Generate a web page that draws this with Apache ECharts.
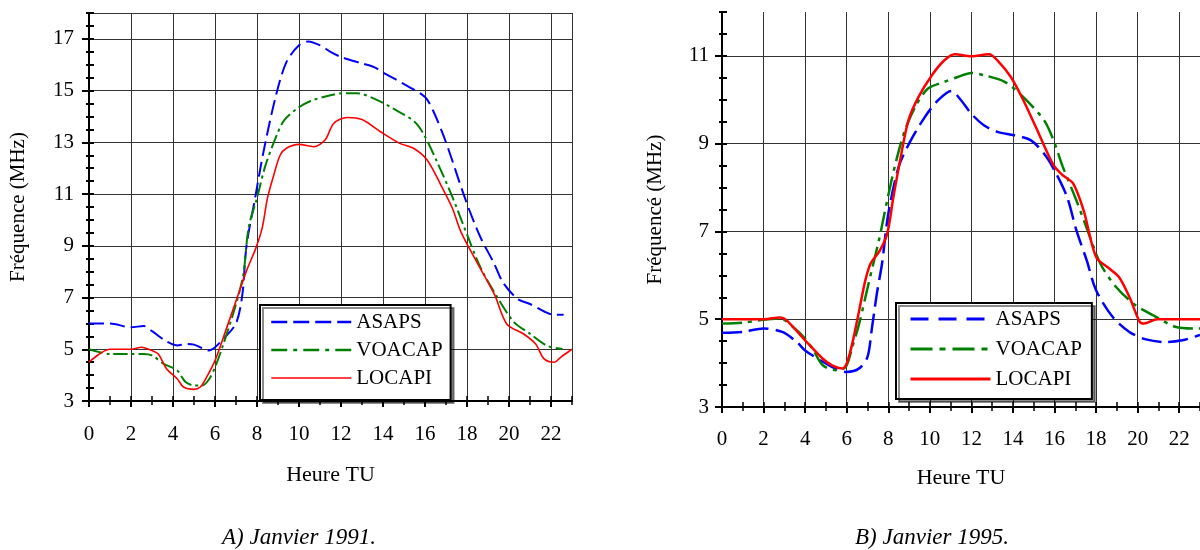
<!DOCTYPE html>
<html>
<head>
<meta charset="utf-8">
<script src="https://cdn.jsdelivr.net/npm/echarts@6.0.0/dist/echarts.min.js"></script>
<style>
  html, body { margin: 0; background: #fff; }
  #chart { width: 1200px; height: 550px; }
</style>
</head>
<body>
<div id="chart"></div>
<script>
// A) Janvier 1991 : [heure TU, fréquence MHz]
var asaps1991 = [[0,6.0],[1,6.0],[2,5.85],[2.6,5.9],[3,5.7],[3.7,5.3],[4.2,5.15],[4.6,5.2],[5,5.18],[5.7,4.95],[6,5.08],[6.4,5.4],[7,6.0],[7.3,7.1],[7.5,9.0],[7.9,10.8],[8.3,12.6],[8.9,14.8],[9.4,16.1],[10,16.75],[10.45,16.9],[11,16.75],[11.5,16.5],[12,16.3],[13,16.05],[13.6,15.9],[14,15.7],[15,15.25],[16,14.75],[16.4,14.2],[17,13.0],[17.9,10.85],[18.6,9.4],[19.3,8.3],[19.7,7.6],[20.4,6.95],[21,6.75],[21.7,6.45],[22.15,6.33],[22.6,6.33]];
var voacap1991 = [[0,5.0],[1,4.82],[2,4.82],[2.6,4.82],[3,4.76],[3.55,4.44],[4.2,4.18],[4.6,3.73],[5,3.6],[5.4,3.6],[5.7,3.82],[6,4.3],[6.4,5.2],[7,6.74],[7.35,7.9],[7.6,9.7],[8,10.85],[8.4,12.1],[8.95,13.3],[9.3,13.86],[9.9,14.3],[10.55,14.6],[11.5,14.82],[12.1,14.9],[12.75,14.9],[13.55,14.7],[14.5,14.3],[15.5,13.8],[15.95,13.3],[16.6,12.2],[17.3,10.9],[18,9.44],[18.65,8.15],[19.45,7.0],[20.25,6.04],[21,5.6],[21.8,5.14],[22.55,5.01]];
var locapi1991 = [[0,4.5],[1,5.0],[2,5.0],[2.5,5.08],[3,4.95],[3.3,4.82],[3.7,4.24],[4.2,3.86],[4.5,3.54],[5,3.45],[5.3,3.54],[5.6,3.92],[6,4.56],[6.4,5.46],[7,6.87],[7.5,8.03],[7.95,8.92],[8.25,9.7],[8.5,10.85],[8.8,11.74],[9.1,12.5],[9.4,12.77],[10,12.92],[10.7,12.83],[11.25,13.1],[11.65,13.73],[12.3,13.96],[13,13.88],[13.9,13.4],[14.8,12.96],[15.45,12.77],[16.1,12.32],[16.75,11.36],[17.3,10.46],[17.7,9.56],[18.35,8.54],[19.3,7.13],[19.9,5.97],[20.7,5.59],[21.27,5.2],[21.67,4.63],[22.15,4.5],[22.46,4.69],[23,5.0]];

// B) Janvier 1995
var asaps1995 = [[0,4.69],[1,4.71],[2,4.79],[2.9,4.71],[3.6,4.48],[4,4.29],[4.85,4.03],[5.6,3.84],[6,3.8],[6.6,3.88],[7,4.14],[7.2,4.75],[7.45,5.58],[7.7,6.27],[8,7.4],[8.5,8.47],[9,9.0],[9.75,9.6],[10.4,9.99],[11.03,10.2],[11.5,9.99],[12,9.68],[12.6,9.42],[13.25,9.27],[14.05,9.19],[14.85,9.08],[15.5,8.77],[16,8.39],[16.6,7.79],[17.05,7.03],[17.55,6.34],[18,5.66],[18.8,5.05],[19.6,4.71],[20.4,4.54],[21.35,4.48],[22.15,4.52],[22.8,4.61],[23,4.64]];
var voacap1995 = [[0,4.9],[1,4.92],[2,4.99],[2.8,5.02],[3.4,4.83],[4,4.56],[4.4,4.29],[4.85,3.95],[5.5,3.84],[5.95,3.91],[6.27,4.37],[6.6,4.9],[7.05,5.81],[7.55,6.8],[7.95,7.71],[8.35,8.55],[8.8,9.3],[9.3,9.84],[9.9,10.25],[10.7,10.41],[11.35,10.52],[12,10.61],[12.6,10.56],[13.6,10.41],[14.5,10.06],[15.5,9.53],[15.95,9.08],[16.4,8.47],[17.05,7.71],[17.7,6.88],[18.2,6.27],[18.95,5.74],[19.9,5.32],[20.9,5.05],[21.8,4.83],[22.8,4.79],[23,4.79]];
var locapi1995 = [[0,5.0],[2,5.0],[2.8,5.04],[3.1,4.98],[4,4.52],[4.85,4.1],[5.3,3.95],[5.8,3.88],[6,3.99],[6.27,4.45],[6.6,5.2],[6.9,5.89],[7.15,6.27],[7.6,6.57],[7.95,6.95],[8.25,7.79],[8.57,8.62],[8.97,9.53],[9.45,10.06],[10.1,10.56],[10.7,10.9],[11.2,11.04],[12,10.99],[12.85,11.04],[13.25,10.9],[13.9,10.52],[14.5,9.99],[15.1,9.38],[15.95,8.51],[16.4,8.28],[16.9,8.09],[17.4,7.48],[18,6.42],[18.65,6.15],[19.1,5.96],[19.6,5.51],[20.1,4.94],[20.3,4.9],[20.95,5.0],[23,5.0]];

var yLabels1991 = [3, 5, 7, 9, 11, 13, 15, 17];
var yLabels1995 = [3, 5, 7, 9, 11];
var seriesNames = ['ASAPS', 'VOACAP', 'LOCAPI'];

var FONT = 'Liberation Serif';
var BLUE = '#0000ff', GREEN = '#008000', RED = '#ff0000';

// axes x : principal (labels + grille) et deux axes pour les petites graduations
function xAxes(grid, withTop, labelMargin, nameGap) {
    var list = [
        {
            gridIndex: grid, type: 'value', position: 'bottom', min: 0, max: 23, interval: 2,
            axisLine: { onZero: false, lineStyle: { color: '#000', width: 2 } },
            axisTick: { inside: false, length: 6, lineStyle: { color: '#000', width: 2 } },
            axisLabel: { margin: labelMargin, showMaxLabel: false, color: '#000', fontFamily: FONT, fontSize: 21 },
            splitLine: { show: true, lineStyle: { color: '#333', width: 1 } },
            name: 'Heure TU', nameLocation: 'middle', nameGap: nameGap,
            nameTextStyle: { color: '#000', fontFamily: FONT, fontSize: 22 }
        },
        {
            gridIndex: grid, type: 'value', position: 'bottom', min: 0, max: 23, interval: 1,
            axisLine: { show: false, onZero: false },
            axisTick: { inside: true, length: 5, lineStyle: { color: '#000', width: 1.5 } },
            axisLabel: { show: false }, splitLine: { show: false }
        },
        {
            gridIndex: grid, type: 'value', position: 'bottom', min: 0, max: 23, interval: 1,
            axisLine: { show: false, onZero: false },
            axisTick: { inside: false, length: 4, lineStyle: { color: '#000', width: 1.5 } },
            axisLabel: { show: false }, splitLine: { show: false }
        }
    ];
    if (withTop) {
        list.push({
            gridIndex: grid, type: 'value', position: 'top', min: 0, max: 23,
            axisLine: { onZero: false, lineStyle: { color: '#333', width: 1 } },
            axisTick: { show: false }, axisLabel: { show: false }, splitLine: { show: false }
        });
    }
    return list;
}

function yAxes(grid, max, labels, name, labelMargin, gap) {
    return [
        {
            gridIndex: grid, type: 'value', position: 'left', min: 3, max: max,
            axisLine: { onZero: false, lineStyle: { color: '#000', width: 2 } },
            axisTick: { customValues: labels, inside: false, length: 7, lineStyle: { color: '#000', width: 2 } },
            axisLabel: { customValues: labels, margin: labelMargin, color: '#000', fontFamily: FONT, fontSize: 21 },
            splitLine: { show: true, lineStyle: { color: '#333', width: 1 } },
            name: name, nameLocation: 'middle', nameGap: gap,
            nameTextStyle: { color: '#000', fontFamily: FONT, fontSize: 21 }
        },
        {
            gridIndex: grid, type: 'value', position: 'left', min: 3, max: max, interval: 0.5,
            axisLine: { show: false, onZero: false },
            axisTick: { inside: true, length: 5, lineStyle: { color: '#000', width: 2 } },
            axisLabel: { show: false }, splitLine: { show: false }
        },
        {
            gridIndex: grid, type: 'value', position: 'left', min: 3, max: max, interval: 0.5,
            axisLine: { show: false, onZero: false },
            axisTick: { inside: false, length: 3, lineStyle: { color: '#000', width: 2 } },
            axisLabel: { show: false }, splitLine: { show: false }
        }
    ];
}

function line(name, data, xi, yi, color, type, width) {
    return {
        name: name, type: 'line', data: data, xAxisIndex: xi, yAxisIndex: yi,
        showSymbol: false, symbol: 'none', smooth: 0.3, animation: false,
        itemStyle: { color: color },
        lineStyle: { color: color, type: type, width: width }
    };
}

function legend(left, top, padding, gap, styles) {
    return {
        orient: 'vertical', left: left, top: top,
        data: seriesNames.map(function (n, i) {
            return { name: n, lineStyle: styles[i] };
        }),
        itemWidth: 80, itemHeight: 16, itemGap: gap,
        itemStyle: { opacity: 0 },
        padding: padding,
        backgroundColor: '#fff', borderColor: '#000', borderWidth: 2,
        shadowColor: 'rgba(0,0,0,0.45)', shadowOffsetX: 3, shadowOffsetY: 3, shadowBlur: 0,
        textStyle: { color: '#000', fontFamily: FONT, fontSize: 21, lineHeight: 22 }
    };
}

var chart = echarts.init(document.getElementById('chart'), null, { renderer: 'canvas' });

var captionStyle = { color: '#000', fontFamily: FONT, fontStyle: 'italic', fontWeight: 'normal', fontSize: 23 };

var option = {
    backgroundColor: '#fff',
    animation: false,
    title: [
        { text: 'A) Janvier 1991.', left: 294, top: 521, textAlign: 'center', textStyle: captionStyle },
        { text: 'B) Janvier 1995.', left: 927, top: 521, textAlign: 'center', textStyle: captionStyle }
    ],
    legend: [
        legend(260, 305, [6, 8, 11, 10], 6, [
            { type: [16, 6], width: 2.5 },
            { type: [16, 6, 4, 6], width: 2.5 },
            { type: 'solid', width: 1.5 }
        ]),
        legend(896, 303, [5, 10, 9, 13], 8, [
            { type: [18, 10], width: 3 },
            { type: [22, 7, 6, 7], width: 3 },
            { type: 'solid', width: 3 }
        ])
    ],
    grid: [
        { left: 89, top: 13, width: 483, height: 388 },
        { left: 722, top: 12, width: 483, height: 395 }
    ],
    xAxis: xAxes(0, true, 23, 63).concat(xAxes(1, false, 22, 60)),
    yAxis: yAxes(0, 18, yLabels1991, 'Fréquence (MHz)', 15, 60)
        .concat(yAxes(1, 12, yLabels1995, 'Fréquencé (MHz)', 13, 56)),
    series: [
        line('ASAPS', asaps1991, 0, 0, BLUE, [15, 6], 2),
        line('VOACAP', voacap1991, 0, 0, GREEN, [14, 4, 3, 4], 2),
        line('LOCAPI', locapi1991, 0, 0, RED, 'solid', 1.6),
        line('ASAPS', asaps1995, 4, 3, BLUE, [20, 7], 2.5),
        line('VOACAP', voacap1995, 4, 3, GREEN, [20, 6, 4, 6], 2.5),
        line('LOCAPI', locapi1995, 4, 3, RED, 'solid', 2.5)
    ]
};

chart.setOption(option);
</script>
</body>
</html>
